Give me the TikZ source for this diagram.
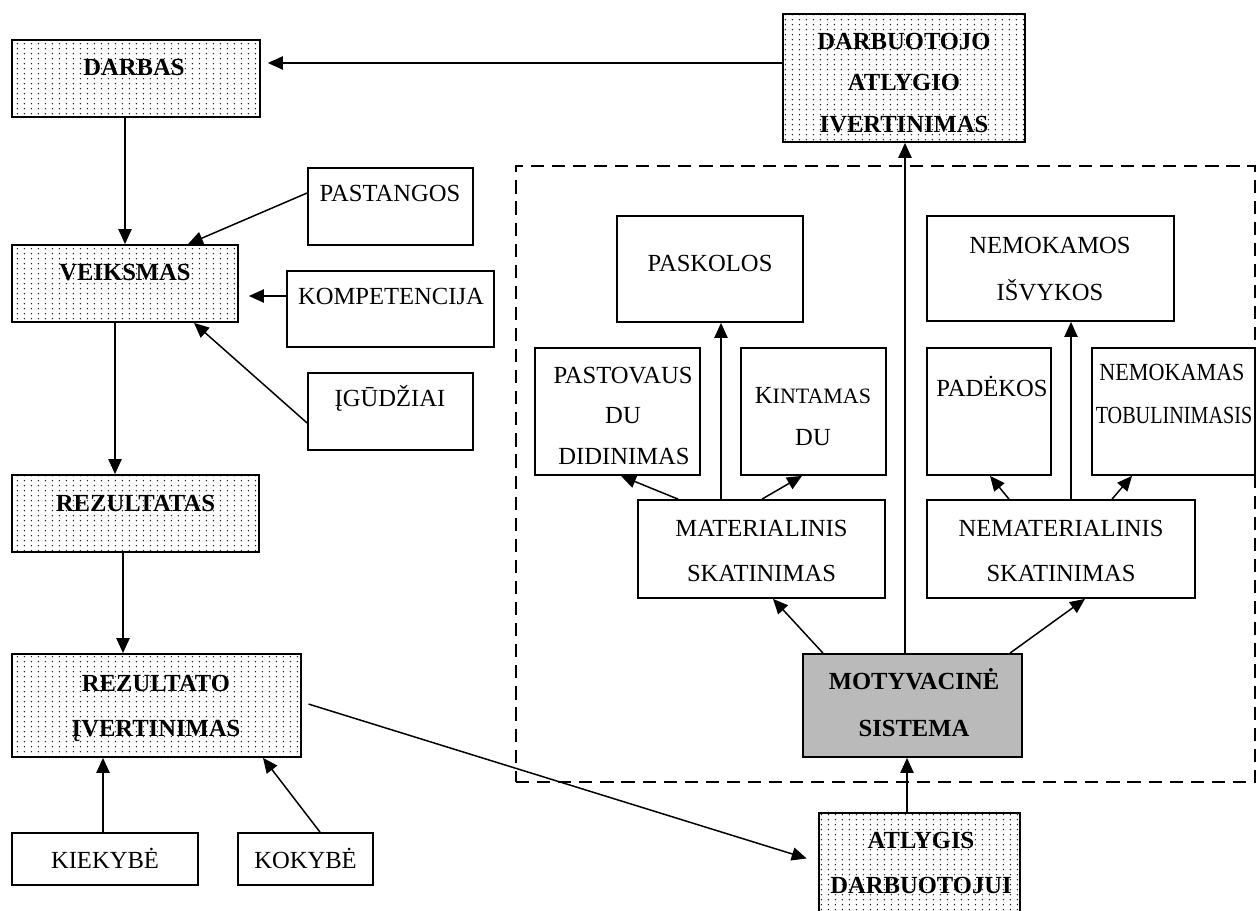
\documentclass[tikz,border=0pt]{standalone}
\usepackage{fontspec}
\setmainfont{Liberation Serif}
\usepackage{graphicx}
\usetikzlibrary{arrows.meta,patterns.meta,fit}

\pgfdeclarepattern{
  name=wdots,
  bottom left={\pgfpoint{0pt}{0pt}},
  top right={\pgfpoint{4.2pt}{3pt}},
  tile size={\pgfpoint{4.2pt}{3pt}},
  code={\pgfpathcircle{\pgfpoint{2.1pt}{1.5pt}}{0.5pt}\pgfusepath{fill}}
}

\tikzset{
  plainbox/.style={draw, line width=1pt, fill=white, inner sep=0pt},
  dotbox/.style={draw, line width=1pt, pattern=wdots, pattern color=black!85, inner sep=0pt},
  graybox/.style={draw, line width=1pt, fill=black!27, inner sep=0pt},
  groupbox/.style={draw, line width=0.85pt, dash pattern=on 7.5pt off 4.5pt, inner sep=0pt},
  arr/.style={-{Triangle[length=8.5pt,width=7.5pt]}, line width=0.85pt},
  reg/.style={font=\fontsize{14}{17}\selectfont, inner sep=0pt, anchor=base},
  bld/.style={font=\fontsize{14}{17}\selectfont\bfseries, inner sep=0pt, anchor=base},
}
\newcommand\putline[4][reg]{\node[#1] (#2) at (#3) {#4};}

\begin{document}
\begin{tikzpicture}[x=0.02cm,y=-0.02cm]
\useasboundingbox (0,0) rectangle (1258,911);
\clip (0,0) rectangle (1258,911);

% group frame
\node[groupbox, fit={(516,166)(1255,782)}] (group) {};

% left column
\node[dotbox, fit={(12,40)(260,117)}] (darbas) {};
\node[dotbox, fit={(12,245)(238,322)}] (veiksmas) {};
\node[dotbox, fit={(12,475)(259,552)}] (rezultatas) {};
\node[dotbox, fit={(12,654)(301,757)}] (rezultato) {};
\node[plainbox, fit={(12,833)(198,885)}] (kiekybe) {};
\node[plainbox, fit={(238,833)(373,885)}] (kokybe) {};
\node[plainbox, fit={(308,168)(473,245)}] (pastangos) {};
\node[plainbox, fit={(287,271)(494,347)}] (kompetencija) {};
\node[plainbox, fit={(308,373)(473,450)}] (igudziai) {};

% right part
\node[dotbox, fit={(783,14)(1025,142)}] (darbuotojo) {};
\node[plainbox, fit={(617,216)(803,322)}] (paskolos) {};
\node[plainbox, fit={(927,216)(1174,321)}] (nemokamos) {};
\node[plainbox, fit={(535,348)(700,475)}] (pastovaus) {};
\node[plainbox, fit={(741,348)(886,475)}] (kintamas) {};
\node[plainbox, fit={(927,348)(1051,475)}] (padekos) {};
\node[plainbox, fit={(1092,348)(1255,475)}] (nemokamas) {};
\node[plainbox, fit={(638,500)(885,598)}] (materialinis) {};
\node[plainbox, fit={(927,500)(1195,598)}] (nematerialinis) {};
\node[graybox, fit={(803,654)(1022,757)}] (motyvacine) {};
\node[dotbox, fit={(819,813)(1020,930)}] (atlygis) {};

% connectors
\draw[arr, shorten >=0.14cm] (darbuotojo.west |- 0,63) -- (darbas.east |- 0,63);
\draw[arr] (darbas.south -| veiksmas.north) -- (veiksmas.north);
\draw[arr] (pastangos.west |- 0,193) -- (veiksmas.north -| 188,0);
\draw[arr, shorten >=0.2cm] (kompetencija.west |- 0,296) -- (veiksmas.east |- 0,296);
\draw[arr] (igudziai.west |- 0,423) -- (veiksmas.south -| 194,0);
\draw[arr] (veiksmas.south -| 115,0) -- (rezultatas.north -| 115,0);
\draw[arr] (rezultatas.south -| 123,0) -- (rezultato.north -| 123,0);
\draw[arr] (kiekybe.north -| 103,0) -- (rezultato.south -| 103,0);
\draw[arr] (kokybe.north -| 320,0) -- (rezultato.south -| 263,0);
\draw[arr, shorten <=0.14cm, shorten >=0.24cm] (rezultato.east |- 0,702) -- (atlygis.west |- 0,862);
\draw[arr] (atlygis.north -| 907,0) -- (motyvacine.south -| 907,0);
\draw[arr] (motyvacine.north -| 905,0) -- (darbuotojo.south -| 905,0);
\draw[arr] (motyvacine.north -| 823,0) -- (materialinis.south -| 773,0);
\draw[arr] (motyvacine.north -| 1010,0) -- (nematerialinis.south -| 1085,0);
\draw[arr] (materialinis.north -| 721,0) -- (paskolos.south -| 721,0);
\draw[arr] (materialinis.north -| 678,0) -- (pastovaus.south -| 621,0);
\draw[arr] (materialinis.north -| 762,0) -- (kintamas.south -| 802,0);
\draw[arr] (nematerialinis.north -| 1071,0) -- (nemokamos.south -| 1071,0);
\draw[arr] (nematerialinis.north -| 1009,0) -- (padekos.south -| 990,0);
\draw[arr] (nematerialinis.north -| 1112,0) -- (nemokamas.south -| 1132,0);

% texts
\putline[bld]{t1}{134,75.5}{DARBAS}
\putline[bld]{t2}{904,49.5}{DARBUOTOJO}
\putline[bld]{t3}{904,90.5}{ATLYGIO}
\putline[bld]{t4}{904,132.5}{IVERTINIMAS}
\putline{t5}{390,201.5}{PASTANGOS}
\putline[bld]{t6}{125,280.5}{VEIKSMAS}
\putline{t7}{391,304.5}{KOMPETENCIJA}
\putline{t8}{390,406.5}{ĮGŪDŽIAI}
\putline[bld]{t9}{135.5,511.5}{REZULTATAS}
\putline[bld]{t10}{156,691.5}{REZULTATO}
\putline[bld]{t11}{156,736.5}{ĮVERTINIMAS}
\putline{t12}{105,868.5}{KIEKYBĖ}
\putline{t13}{305.5,868.5}{KOKYBĖ}
\putline{t14}{710,271.5}{PASKOLOS}
\putline{t15}{1050,253.5}{NEMOKAMOS}
\putline{t16}{1050,300.5}{IŠVYKOS}
\putline{t17}{623,383.5}{PASTOVAUS}
\putline{t18}{623,423.5}{DU}
\putline{t19}{624,464.5}{DIDINIMAS}
\putline{t20}{813,403.5}{K{\fontsize{12.5}{14}\selectfont INTAMAS}}
\putline{t21}{813,445.5}{DU}
\putline{t22}{992,396.5}{PADĖKOS}
\putline{t23}{1172,380.5}{\scalebox{0.9}[1]{NEMOKAMAS}}
\putline{t24}{1174,423.5}{\scalebox{0.82}[1]{TOBULINIMASIS}}
\putline{t25}{761.5,536.5}{MATERIALINIS}
\putline{t26}{761.5,581.5}{SKATINIMAS}
\putline{t27}{1061,536.5}{NEMATERIALINIS}
\putline{t28}{1061,581.5}{SKATINIMAS}
\putline[bld]{t29}{914,690}{MOTYVACINĖ}
\putline[bld]{t30}{914,736.5}{SISTEMA}
\putline[bld]{t31}{921,848.5}{ATLYGIS}
\putline[bld]{t32}{921,893.5}{DARBUOTOJUI}
\end{tikzpicture}
\end{document}
